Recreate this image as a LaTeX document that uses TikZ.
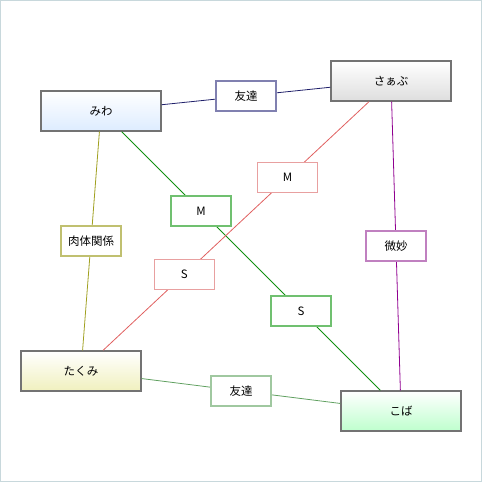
\documentclass[tikz,border=0pt]{standalone}
\usepackage{fontspec}
\setmainfont{Noto Sans CJK JP}
\usetikzlibrary{calc}
\begin{document}
\begin{tikzpicture}[x=1pt,y=-1pt,
  person/.style={draw=black!55,line width=1.4pt,minimum width=120pt,minimum height=40pt,inner sep=0pt,top color=white,font=\fontsize{11.5}{13}\selectfont},
  lbl/.style={draw=#1,fill=white,line width=1.4pt,minimum width=60pt,minimum height=30pt,inner sep=0pt,font=\fontsize{11.5}{13}\selectfont},
  rel/.style={draw=#1,line width=0.8pt}]
\definecolor{bordc}{HTML}{C8D8DC}
\definecolor{navyl}{HTML}{20206A}
\definecolor{navyb}{HTML}{8080B0}
\definecolor{grnl}{HTML}{109010}
\definecolor{grnb}{HTML}{70C070}
\definecolor{olvl}{HTML}{A0A020}
\definecolor{olvb}{HTML}{C0C070}
\definecolor{redl}{HTML}{E06060}
\definecolor{redb}{HTML}{E8A0A0}
\definecolor{purl}{HTML}{900090}
\definecolor{purb}{HTML}{C080C0}
\definecolor{gr2l}{HTML}{60A060}
\definecolor{gr2b}{HTML}{A0C8A0}
\path[use as bounding box] (0,0) rectangle (482,482);
\draw[bordc,line width=1pt] (0.5,0.5) rectangle (481.5,481.5);
\node[person,bottom color={rgb,255:red,221;green,236;blue,255}] (miwa) at (101,111) {みわ};
\node[person,bottom color={rgb,255:red,222;green,222;blue,222}] (saab) at (391,81) {さぁぶ};
\node[person,bottom color={rgb,255:red,240;green,240;blue,190}] (takumi) at (81,371) {たくみ};
\node[person,bottom color={rgb,255:red,190;green,255;blue,205}] (koba) at (401,411) {こば};
\draw[rel=navyl] (miwa) -- (saab);
\draw[rel=grnl] (miwa) -- (koba);
\draw[rel=olvl] (miwa) -- (takumi);
\draw[rel=redl] (takumi) -- (saab);
\draw[rel=purl] (saab) -- (koba);
\draw[rel=gr2l] (takumi) -- (koba);
\node[lbl=navyb] (l1) at ($(miwa)!0.5!(saab)$) {友達};
\node[lbl=grnb] (l2) at ($(miwa)!1/3!(koba)$) {M};
\node[lbl=grnb] (l3) at ($(miwa)!2/3!(koba)$) {S};
\node[lbl=olvb] (l4) at ($(miwa)!0.5!(takumi)$) {肉体関係};
\node[lbl=redb] (l5) at ($(takumi)!1/3!(saab)$) {S};
\node[lbl=redb] (l6) at ($(takumi)!2/3!(saab)$) {M};
\node[lbl=purb] (l7) at ($(saab)!0.5!(koba)$) {微妙};
\node[lbl=gr2b] (l8) at ($(takumi)!0.5!(koba)$) {友達};
\end{tikzpicture}
\end{document}
